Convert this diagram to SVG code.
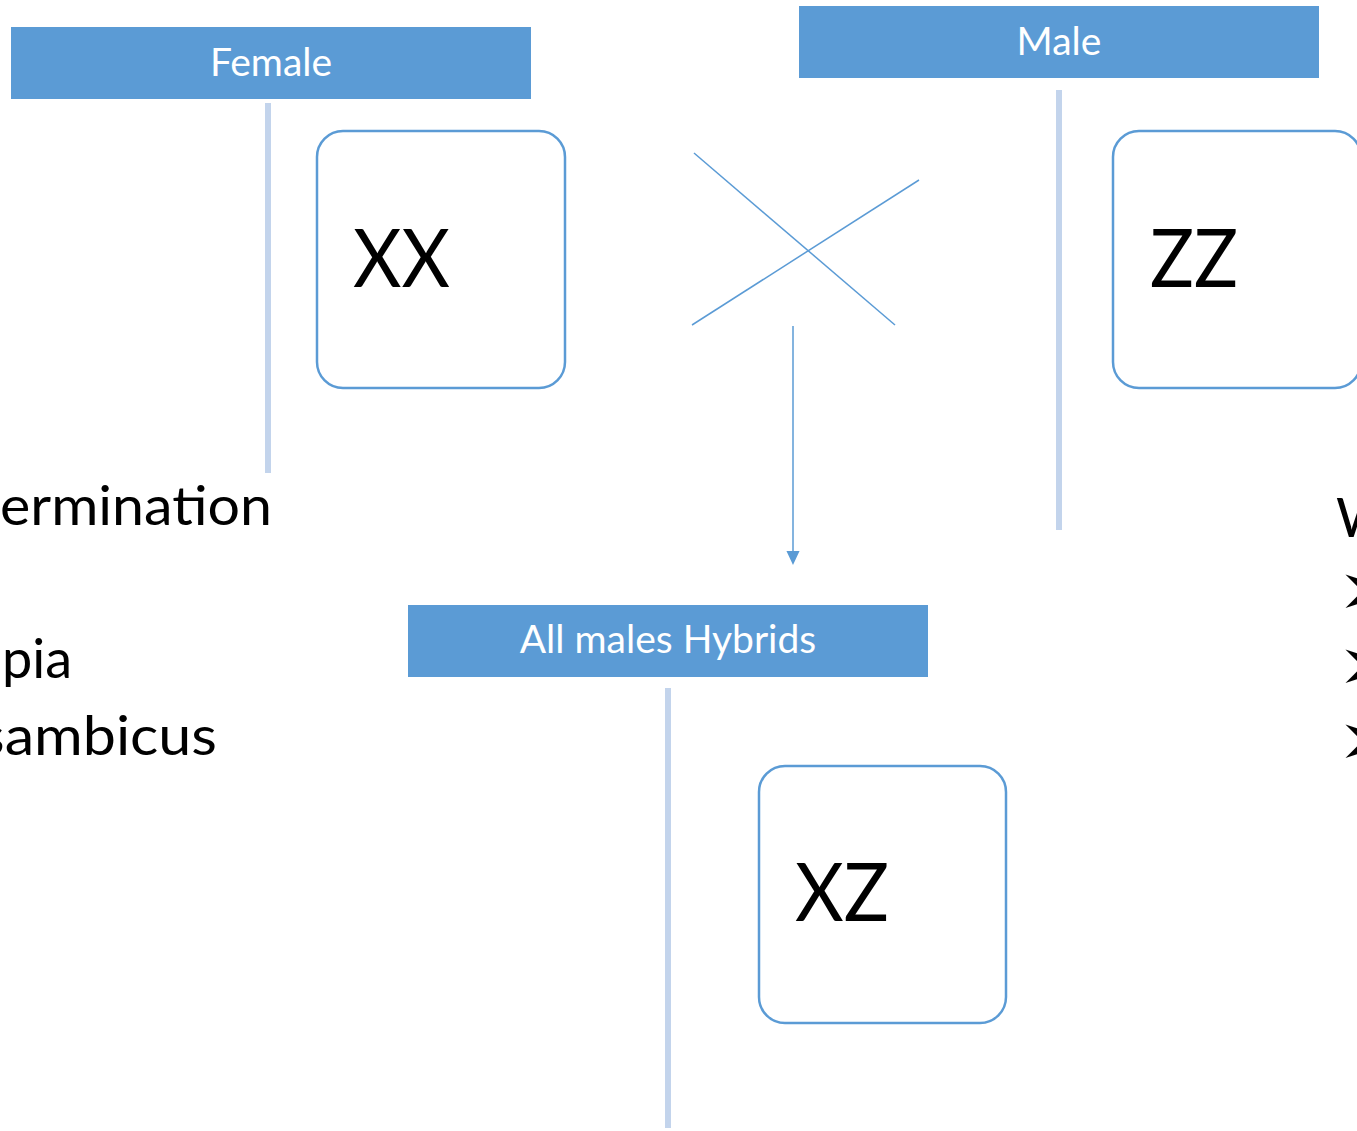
<svg xmlns="http://www.w3.org/2000/svg" width="1357" height="1131" viewBox="0 0 1357 1131">
<style>
.bar{fill:#5B9BD5}
.bt{font-family:Lato,"Open Sans",sans-serif;font-size:39px;fill:#fff;text-anchor:middle}
.vl{stroke:#C3D4EC;stroke-width:6}
.box{fill:#fff;stroke:#5B9BD5;stroke-width:2.5}
.big{font-family:Lato,"Open Sans",sans-serif;font-size:82px;fill:#000}
.side{font-family:Lato,"Open Sans",sans-serif;font-size:54px;fill:#000}
.bul{font-family:"DejaVu Sans",sans-serif;font-size:76px;fill:#000}
.cn{stroke:#5B9BD5;stroke-width:1.5;fill:none}
</style>
<defs>
<marker id="ah" markerWidth="14" markerHeight="15" refX="0" refY="7" orient="auto" markerUnits="userSpaceOnUse" viewBox="0 0 15 14">
<path d="M0,0 L15,7 L0,14 z" fill="#5B9BD5"/>
</marker>
</defs>
<rect width="1357" height="1131" fill="#fff"/>
<g id="left-text">
<text class="side" x="272" y="525" text-anchor="end" textLength="272" lengthAdjust="spacingAndGlyphs">ermination</text>
<text class="side" x="72" y="678" text-anchor="end">pia</text>
<text class="side" x="217" y="755" text-anchor="end" textLength="238" lengthAdjust="spacingAndGlyphs">sambicus</text>
</g>
<g id="right-text">
<text class="side" x="1336" y="537">W</text>
<text class="bul" x="1337" y="615">➢</text>
<text class="bul" x="1337" y="690">➢</text>
<text class="bul" x="1337" y="765">➢</text>
</g>
<g id="female">
<rect class="bar" x="11" y="27" width="520" height="72"/>
<text class="bt" x="271" y="76">Female</text>
<line class="vl" x1="268" y1="103" x2="268" y2="473"/>
</g>
<g id="xx">
<rect class="box" x="317" y="131" width="248" height="257" rx="26"/>
<text class="big" x="353" y="287" textLength="97" lengthAdjust="spacingAndGlyphs">XX</text>
</g>
<g id="male">
<rect class="bar" x="799" y="6" width="520" height="72"/>
<text class="bt" x="1059" y="55">Male</text>
<line class="vl" x1="1059" y1="90" x2="1059" y2="530"/>
</g>
<g id="zz">
<rect class="box" x="1113" y="131" width="248" height="257" rx="26"/>
<text class="big" x="1150" y="287" textLength="88" lengthAdjust="spacingAndGlyphs">ZZ</text>
</g>
<g id="hybrids">
<rect class="bar" x="408" y="605" width="520" height="72"/>
<text class="bt" x="668" y="653">All males Hybrids</text>
<line class="vl" x1="668" y1="688" x2="668" y2="1128"/>
</g>
<g id="xz">
<rect class="box" x="759" y="766" width="247" height="257" rx="26"/>
<text class="big" x="795" y="921" textLength="94" lengthAdjust="spacingAndGlyphs">XZ</text>
</g>
<g id="connectors">
<line class="cn" x1="694" y1="153" x2="895" y2="325"/>
<line class="cn" x1="692" y1="325" x2="919" y2="180"/>
<line class="cn" x1="793" y1="326" x2="793" y2="551" stroke-width="2" marker-end="url(#ah)"/>
</g>
</svg>
